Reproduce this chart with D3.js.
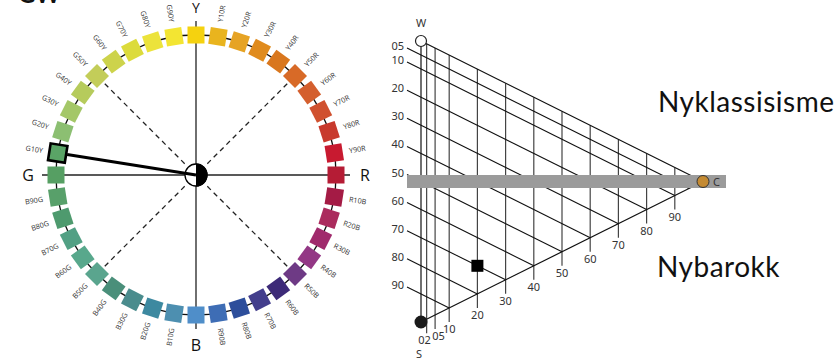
<!DOCTYPE html>
<html><head><meta charset="utf-8">
<script src="https://cdn.jsdelivr.net/npm/d3@7"></script>
<style>body{margin:0;background:#fff}svg{display:block}</style>
</head><body>
<svg id="chart" width="837" height="358"></svg>
<script>
// ---------- DATA ----------
const hues = ["Y","Y10R","Y20R","Y30R","Y40R","Y50R","Y60R","Y70R","Y80R","Y90R",
              "R","R10B","R20B","R30B","R40B","R50B","R60B","R70B","R80B","R90B",
              "B","B10G","B20G","B30G","B40G","B50G","B60G","B70G","B80G","B90G",
              "G","G10Y","G20Y","G30Y","G40Y","G50Y","G60Y","G70Y","G80Y","G90Y"];
const hueColors = ["#f5d20f","#e9b41e","#e6a324","#e08b1d","#d9771e","#d86a27","#d45f2e","#d0512f","#c83a2d","#c81a30",
                   "#b51c35","#a41b45","#ab2b5d","#a02a6c","#933785","#6e3a85","#3d2a78","#433e8c","#2d4e9b","#3e6db5",
                   "#4f8ec9","#4d8fb0","#3d89a0","#4a8c8d","#4a8f7a","#5aa58e","#58a88c","#52a084","#4e9a6e","#58a06a",
                   "#569f63","#5aa466","#8cbf72","#a4c768","#b6cb5c","#c3cd59","#cdd34b","#dcdb3b","#ece33b","#f3e532"];
const mainHues = ["Y","R","B","G"];
const highlightHue = "G10Y";

const chromaTicks  = [2,5,10,20,30,40,50,60,70,80,90];
const chromaLabels = ["02","05","10","20","30","40","50","60","70","80","90"];
const blackTicks   = [5,10,20,30,40,50,60,70,80,90];
const blackLabels  = ["05","10","20","30","40","50","60","70","80","90"];
const sampleBlackness = [70];
const sampleChroma    = [20];
const bandChroma = 100;
const styleNames = ["Nyklassisisme","Nybarokk"];

// ---------- DRAW ----------
const svg = d3.select("#chart");

// cropped heading at top-left
svg.append("text").attr("x",18).attr("y",3).attr("font-family","Lato, sans-serif")
  .attr("font-size",24).attr("font-weight","bold").attr("fill","#111").text("GW");

// ===== Colour circle =====
const cx = 196, cy = 175, R = 140;
const ang = d3.scaleLinear().domain([0, hues.length]).range([0, 360]);
const rad = d => d * Math.PI / 180;
const polar = (a, r) => [cx + r * Math.sin(rad(a)), cy - r * Math.cos(rad(a))];
const gC = svg.append("g");

// axes
[0, 90, 180, 270].forEach(a => {
  const p = polar(a, 154);
  gC.append("line").attr("x1",cx).attr("y1",cy).attr("x2",p[0]).attr("y2",p[1])
    .attr("stroke","#222").attr("stroke-width",1.3);
});
// dashed diagonals
[45, 135, 225, 315].forEach(a => {
  const p0 = polar(a, 16), p1 = polar(a, 130);
  gC.append("line").attr("x1",p0[0]).attr("y1",p0[1]).attr("x2",p1[0]).attr("y2",p1[1])
    .attr("stroke","#222").attr("stroke-width",1.3).attr("stroke-dasharray","5,4");
});
// ring
gC.append("circle").attr("cx",cx).attr("cy",cy).attr("r",R)
  .attr("fill","none").attr("stroke","#111").attr("stroke-width",1.3);

// squares
hues.forEach((h, i) => {
  const a = ang(i), p = polar(a, R);
  const hl = h === highlightHue;
  gC.append("rect").attr("x",-8.5).attr("y",-8.5).attr("width",17).attr("height",17)
    .attr("transform",`translate(${p[0]},${p[1]}) rotate(${a})`)
    .attr("fill",hueColors[i])
    .attr("stroke",hl ? "#000" : "none").attr("stroke-width",hl ? 2.6 : 0);
  if (mainHues.includes(h)) return;
  const lp = polar(a, 155);
  const right = a < 180;
  gC.append("text").attr("transform",`translate(${lp[0]},${lp[1]}) rotate(${right ? a - 90 : a + 90})`)
    .attr("text-anchor", right ? "start" : "end").attr("dy","0.35em")
    .attr("font-family","Open Sans, sans-serif").attr("font-size",7.2).attr("fill","#333").text(h);
});
// main hue letters
const mainPos = {Y:[196,13,"middle"], R:[360,181,"start"], G:[34,181,"end"], B:[196,351,"middle"]};
mainHues.forEach(h => {
  const m = mainPos[h];
  gC.append("text").attr("x",m[0]).attr("y",m[1]).attr("text-anchor",m[2])
    .attr("font-family","Open Sans, sans-serif").attr("font-size",h === "Y" ? 14 : 16).attr("fill","#111").text(h);
});
// center disc
gC.append("circle").attr("cx",cx).attr("cy",cy).attr("r",11)
  .attr("fill","#fff").attr("stroke","#000").attr("stroke-width",1.3);
gC.append("path").attr("transform",`translate(${cx},${cy})`)
  .attr("d", d3.arc()({innerRadius:0, outerRadius:11.6, startAngle:0, endAngle:Math.PI}))
  .attr("fill","#000");
// highlighted hue line
{
  const i = hues.indexOf(highlightHue);
  const p = polar(ang(i), R - 9.5);
  gC.append("line").attr("x1",cx).attr("y1",cy).attr("x2",p[0]).attr("y2",p[1])
    .attr("stroke","#000").attr("stroke-width",3);
}

// ===== NCS triangle =====
const xC = d3.scaleLinear().domain([0,100]).range([421,703]);
const yW = 41, yS = 322, yCm = (yW + yS) / 2;
const yB = d3.scaleLinear().domain([0,100]).range([0, yS - yW]);
const yCh = d3.scaleLinear().domain([0,100]).range([0, yCm - yW]);
const pt = (s, c) => [xC(c), yW + yB(s) + yCh(c)];
const gT = svg.append("g");
const lab = {"font-family":"Noto Sans, sans-serif","font-size":11,"fill":"#333"};
const setA = (sel, o) => { Object.entries(o).forEach(([k,v]) => sel.attr(k,v)); return sel; };

// chromaticness verticals
chromaTicks.forEach((c, i) => {
  const p0 = pt(0, c), p1 = pt(100 - c, c);
  gT.append("line").attr("x1",p0[0]).attr("y1",p0[1]).attr("x2",p1[0]).attr("y2",p1[1] + 14)
    .attr("stroke","#444").attr("stroke-width",1.2);
  const dx = c === 2 ? -2 : (c === 5 ? 3.5 : 0);
  setA(gT.append("text"), lab).attr("x",p1[0] + dx).attr("y",p1[1] + 25)
    .attr("text-anchor","middle").text(chromaLabels[i]);
});
// blackness slanted lines
blackTicks.forEach((s, i) => {
  const p0 = pt(s, 0), p1 = pt(s, 100 - s);
  const sx = p0[0] - 14, sy = p0[1] - 7;
  gT.append("line").attr("x1",sx).attr("y1",sy).attr("x2",p1[0]).attr("y2",p1[1])
    .attr("stroke","#111").attr("stroke-width",1.1);
  setA(gT.append("text"), lab).attr("x",sx - 3).attr("y",sy + 2)
    .attr("text-anchor","end").text(blackLabels[i]);
});
// edges
const W = pt(0,0), S = pt(100,0), C = pt(0,100);
[[W,C],[W,S],[S,C]].forEach(([a,b]) => {
  gT.append("line").attr("x1",a[0]).attr("y1",a[1]).attr("x2",b[0]).attr("y2",b[1])
    .attr("stroke","#111").attr("stroke-width",1.2);
});
// grey band at C level
{
  const pc = pt(0, bandChroma);
  gT.append("rect").attr("x",407).attr("y",pc[1] - 6.5).attr("width",726 - 407).attr("height",13)
    .attr("fill","#9b9b9b");
}
// corners
gT.append("circle").attr("cx",W[0]).attr("cy",W[1]).attr("r",5.5).attr("fill","#fff").attr("stroke","#222").attr("stroke-width",1.2);
gT.append("circle").attr("cx",S[0]).attr("cy",S[1]).attr("r",6.5).attr("fill","#1a1a1a");
gT.append("circle").attr("cx",C[0]).attr("cy",C[1]).attr("r",6).attr("fill","#c48a32").attr("stroke","#333").attr("stroke-width",1);
setA(gT.append("text"), lab).attr("x",W[0]).attr("y",W[1] - 14).attr("text-anchor","middle").text("W");
setA(gT.append("text"), lab).attr("x",S[0] - 2).attr("y",S[1] + 36).attr("text-anchor","middle").text("S");
setA(gT.append("text"), lab).attr("x",C[0] + 10).attr("y",C[1] + 4).text("C");
// sample
sampleBlackness.forEach((s, i) => {
  const p = pt(s, sampleChroma[i]);
  gT.append("rect").attr("x",p[0] - 6).attr("y",p[1] - 6).attr("width",12).attr("height",12).attr("fill","#000");
});
// style names
svg.append("text").attr("x",658).attr("y",112).attr("font-family","Lato, sans-serif")
  .attr("font-size",28).attr("letter-spacing",0.5).attr("fill","#111").text(styleNames[0]);
svg.append("text").attr("x",657).attr("y",277).attr("font-family","Lato, sans-serif")
  .attr("font-size",28).attr("letter-spacing",0.5).attr("fill","#111").text(styleNames[1]);
</script>
</body></html>
